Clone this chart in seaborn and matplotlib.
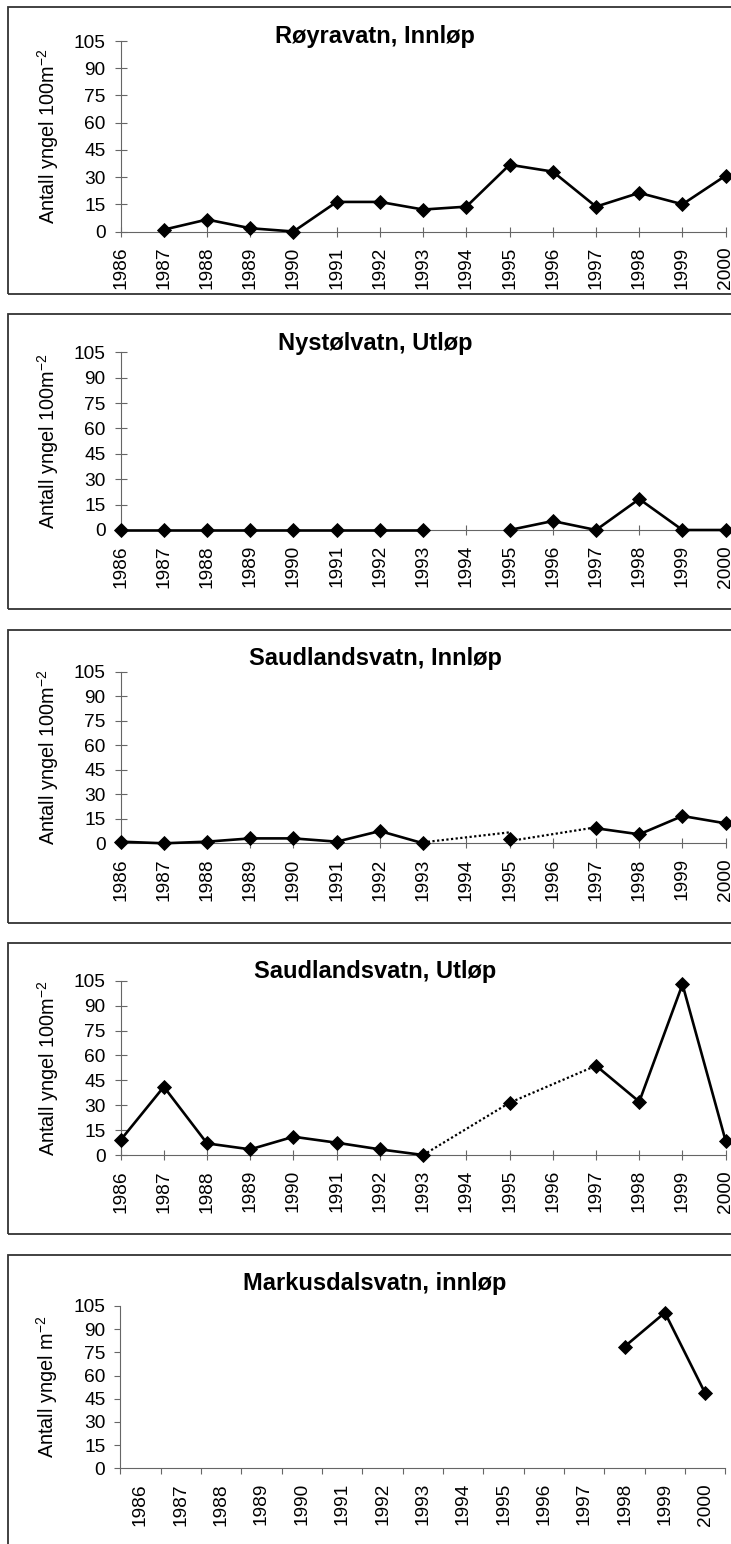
import numpy as np
import pandas as pd
import matplotlib.pyplot as plt
from matplotlib.patches import Rectangle
import seaborn as sns

# --- data ---
years = list(range(1986, 2001))
nan = np.nan

royravatn_inn = [nan, 1.0, 6.6, 1.8, 0.0, 16.3, 16.3, 12.1, 13.7, 36.8, 33.0, 13.7, 21.3, 15.0, 30.8]
nystolvatn_utl = [0, 0, 0, 0, 0, 0, 0, 0, nan, 0, 5.3, 0, 18.3, 0, 0]
saudland_inn = [1.0, 0.0, 1.0, 3.0, 3.0, 1.0, 7.5, 0.0, nan, 2.9, nan, 9.2, 5.5, 16.7, 12.2]
saudland_utl = [9.0, 41.1, 7.0, 3.4, 11.0, 7.4, 3.4, 0.0, nan, 31.5, nan, 53.8, 32.1, 102.8, 8.4]
markusdal_inn = [nan] * 12 + [78.7, 100.7, 48.5]

# dotted "bridges" over the missing years (segment id, year, value)
saudland_inn_dot_seg = [0, 0, 1, 1]
saudland_inn_dot_year = [1993, 1995, 1995, 1997]
saudland_inn_dot_val = [0.6, 6.7, 1.4, 9.8]
saudland_utl_dot_seg = [0, 0, 0]
saudland_utl_dot_year = [1993, 1995, 1997]
saudland_utl_dot_val = [0.0, 31.5, 53.8]

titles = ['Røyravatn, Innløp', 'Nystølvatn, Utløp', 'Saudlandsvatn, Innløp',
          'Saudlandsvatn, Utløp', 'Markusdalsvatn, innløp']
ylab_100 = 'Antall yngel 100m$^{\\mathregular{-2}}$'
ylab_m = 'Antall yngel m$^{\\mathregular{-2}}$'
yticks = [0, 15, 30, 45, 60, 75, 90, 105]

# --- style ---
sns.set_style('white')
plt.rcParams['font.family'] = ['Liberation Sans', 'DejaVu Sans']
plt.rcParams['mathtext.default'] = 'regular'
for k in ['text.color', 'axes.labelcolor', 'xtick.labelcolor', 'ytick.labelcolor']:
    plt.rcParams[k] = 'black'

W, H = 731, 1544
fig = plt.figure(figsize=(W / 100, H / 100), dpi=100)

AX_COL = '#666666'
FS = 13.8


def segments(x, y):
    # break the line wherever a year is missing
    df = pd.DataFrame({'x': x, 'y': y})
    df['seg'] = df['y'].isna().cumsum()
    return df.dropna()


def add_axes(x0, x1, ytop, ybot):
    return fig.add_axes([x0 / W, 1 - ybot / H, (x1 - x0) / W, (ybot - ytop) / H])


def style_axes(ax, cross=True):
    sns.despine(ax=ax)
    for s in ['left', 'bottom']:
        ax.spines[s].set_color(AX_COL)
        ax.spines[s].set_linewidth(0.8)
    ax.set_ylim(0, 105)
    ax.set_yticks(yticks)
    ax.tick_params(left=True, bottom=True)
    if cross:
        ax.tick_params(axis='y', direction='inout', length=8.4, width=0.8,
                       color=AX_COL, pad=6.6, labelsize=FS)
        ax.tick_params(axis='x', direction='inout', length=7.2, width=0.8,
                       color=AX_COL, pad=7.2, labelsize=FS, labelrotation=90)
    else:
        ax.tick_params(axis='y', direction='out', length=4.3, width=0.8,
                       color=AX_COL, pad=6.5, labelsize=FS)
        ax.tick_params(axis='x', which='major', direction='out', length=4.3,
                       width=0.8, color=AX_COL)
        ax.tick_params(axis='x', which='minor', bottom=True, length=0, pad=10.6,
                       labelsize=FS, labelrotation=90)
    ax.set_xlabel('')


def draw_line(ax, x, y):
    d = segments(x, y)
    sns.lineplot(data=d, x='x', y='y', units='seg', estimator=None, ax=ax,
                 color='black', lw=1.9, marker='D', ms=7.4, mec='black',
                 mew=0.6, clip_on=False, zorder=5)


def draw_dotted(ax, seg, x, y):
    d = pd.DataFrame({'seg': seg, 'x': x, 'y': y})
    sns.lineplot(data=d, x='x', y='y', units='seg', estimator=None, ax=ax,
                 color='black', lw=1.6, linestyle=(0, (1, 1.1)),
                 clip_on=False, zorder=4)


# frame boxes (top, bottom in px); right side runs off the picture
boxes = [(7, 294), (314, 609), (630, 923), (943, 1234), (1255, 1560)]
for top, bot in boxes:
    fig.add_artist(Rectangle((8 / W, 1 - bot / H), 745 / W, (bot - top) / H,
                             transform=fig.transFigure, fill=False,
                             edgecolor='#333333', lw=1.3))

# axes extents in px: (y of 105, y of 0)
ylims_px = [(41, 231.5), (352.3, 530), (671.7, 843.3), (980.7, 1155), (1306, 1468.3)]
title_base = [42.7, 350, 665, 978.3, 1290]

series = [royravatn_inn, nystolvatn_utl, saudland_inn, saudland_utl]
dotted = [None, None,
          (saudland_inn_dot_seg, saudland_inn_dot_year, saudland_inn_dot_val),
          (saudland_utl_dot_seg, saudland_utl_dot_year, saudland_utl_dot_val)]

for i in range(4):
    ax = add_axes(120.6, 725.7, *ylims_px[i])
    draw_line(ax, years, series[i])
    if dotted[i] is not None:
        draw_dotted(ax, *dotted[i])
    ax.set_xlim(1986, 2000)
    ax.set_xticks(years)
    ax.set_xticklabels([str(y) for y in years])
    style_axes(ax, cross=True)
    ax.set_ylabel(ylab_100, fontsize=14.3)
    ax.yaxis.set_label_coords((60.5 - 120.6) / 605.1, 0.5)

# last panel: category axis, labels between tick marks
ax = add_axes(120.3, 725.4, *ylims_px[4])
pos = np.arange(len(years))
draw_line(ax, pos, markusdal_inn)
ax.set_xlim(-0.5, len(years) - 0.5)
ax.set_xticks(np.arange(-0.5, len(years)), labels=[])
ax.set_xticks(pos, labels=[str(y) for y in years], minor=True)
style_axes(ax, cross=False)
ax.set_ylabel(ylab_m, fontsize=14.3)
ax.yaxis.set_label_coords((60.5 - 120.3) / 605.1, 0.5)

for t, yb in zip(titles, title_base):
    fig.text(375 / W, 1 - yb / H, t, ha='center', va='baseline',
             fontsize=17, fontweight='bold')

fig.savefig('out.png', dpi=100)
